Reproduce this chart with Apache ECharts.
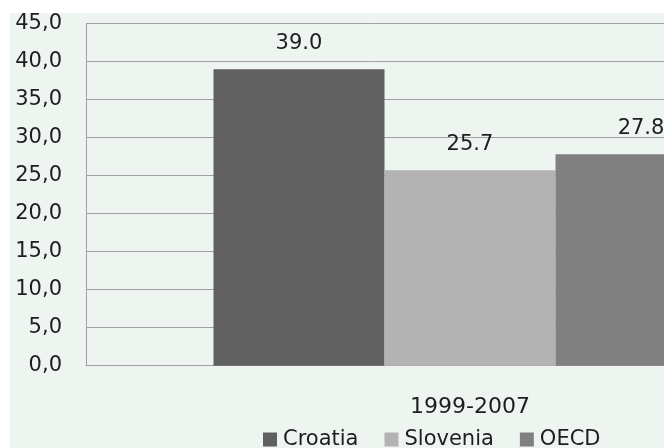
<!DOCTYPE html>
<html>
<head>
<meta charset="utf-8">
<script src="https://cdn.jsdelivr.net/npm/echarts@6/dist/echarts.min.js"></script>
<style>
  html, body { margin: 0; padding: 0; background: #ffffff; }
  #chart { width: 664px; height: 448px; }
</style>
</head>
<body>
<div id="chart"></div>
<script>
// Period on the category axis
const categories = ['1999-2007'];

// Series values per period
const croatia = [39.0];
const slovenia = [25.7];
const oecd = [27.8];

// Y axis range
const yMin = 0;
const yMax = 45;
const yStep = 5;

const FONT = 'DejaVu Sans';
const TEXT = '#1e1e1e';
const GRID_LINE = '#a0a0a0';

const chart = echarts.init(document.getElementById('chart'), null, { renderer: 'canvas' });

const valueLabel = {
  show: true,
  position: 'top',
  distance: 15,
  color: TEXT,
  fontFamily: FONT,
  fontSize: 21,
  formatter: p => p.value.toFixed(1)
};

chart.setOption({
  backgroundColor: '#ffffff',
  animation: false,
  graphic: [{
    type: 'rect',
    z: -10,
    silent: true,
    shape: { x: 10, y: 13, width: 700, height: 460 },
    style: { fill: '#eef5f0' }
  }],
  // the plot runs past the right edge of the canvas
  grid: { left: 86, top: 23.5, right: -190, bottom: 82.3, outerBoundsMode: 'none', containLabel: false },
  legend: {
    left: 263,
    top: 429,
    padding: 0,
    itemWidth: 14,
    itemHeight: 14,
    itemGap: 26,
    icon: 'rect',
    textStyle: { color: TEXT, fontFamily: FONT, fontSize: 21, padding: [0, 0, 0, 1] },
    data: ['Croatia', 'Slovenia', 'OECD']
  },
  xAxis: {
    type: 'category',
    data: categories,
    axisLine: { show: true, lineStyle: { color: GRID_LINE, width: 1 } },
    axisTick: { show: false },
    axisLabel: { color: TEXT, fontFamily: FONT, fontSize: 22, margin: 31 }
  },
  yAxis: {
    type: 'value',
    min: yMin,
    max: yMax,
    interval: yStep,
    axisLine: { show: true, lineStyle: { color: GRID_LINE, width: 1 } },
    axisTick: { show: false },
    splitLine: { show: true, lineStyle: { color: GRID_LINE, width: 1 } },
    axisLabel: {
      color: TEXT,
      fontFamily: FONT,
      fontSize: 21,
      margin: 24,
      formatter: v => v.toFixed(1).replace('.', ',')
    }
  },
  series: [
    { name: 'Croatia', type: 'bar', data: croatia, barGap: '0%', barCategoryGap: '33.2%',
      itemStyle: { color: '#606060' }, label: valueLabel },
    { name: 'Slovenia', type: 'bar', data: slovenia, barGap: '0%', barCategoryGap: '33.2%',
      itemStyle: { color: '#b3b3b3' }, label: valueLabel },
    { name: 'OECD', type: 'bar', data: oecd, barGap: '0%', barCategoryGap: '33.2%',
      itemStyle: { color: '#808080' }, label: valueLabel }
  ]
});
</script>
</body>
</html>
